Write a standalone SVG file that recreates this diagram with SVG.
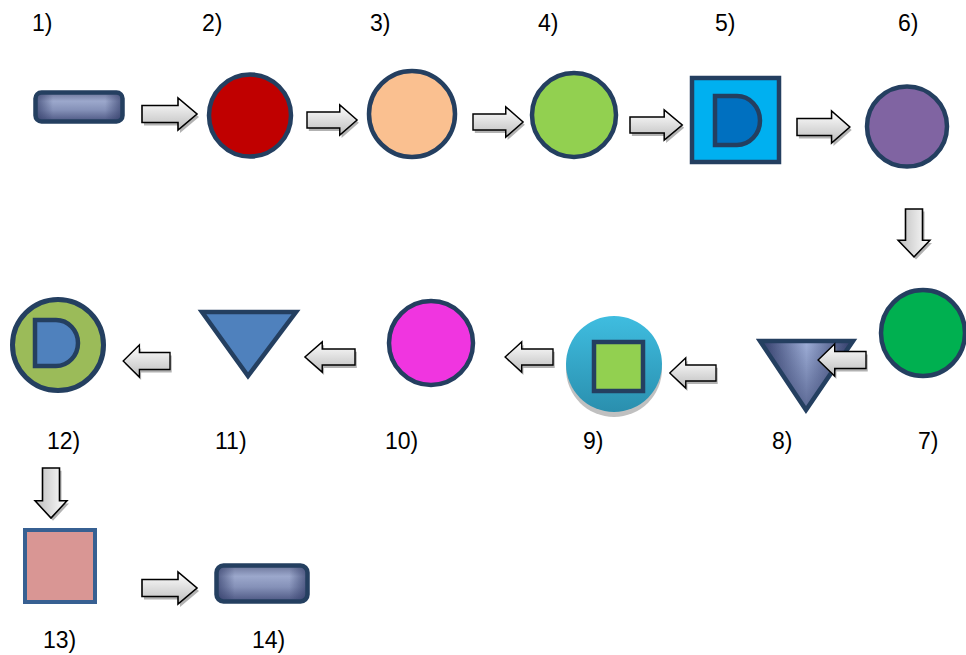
<svg xmlns="http://www.w3.org/2000/svg" xmlns:xlink="http://www.w3.org/1999/xlink" width="966" height="655" viewBox="0 0 966 655">
<style>
  .lbl { font-family: "Liberation Sans", Arial, sans-serif; font-size: 23px; fill: #000; }
  .nav { stroke: #243F60; stroke-width: 4.5; }
  .arrow { fill: url(#arrowGrad); stroke: #000; stroke-width: 1.6; stroke-linejoin: miter; }
  .shadow { fill: #7f7f7f; opacity: 0.6; }
</style>
<defs>
  <linearGradient id="arrowGrad" x1="0" y1="0" x2="0" y2="1">
    <stop offset="0" stop-color="#ffffff"/>
    <stop offset="1" stop-color="#bdbdbd"/>
  </linearGradient>
  <linearGradient id="barV" x1="0" y1="0" x2="0" y2="1">
    <stop offset="0" stop-color="#6b7499"/>
    <stop offset="0.3" stop-color="#9ca8cc"/>
    <stop offset="0.6" stop-color="#8591b8"/>
    <stop offset="1" stop-color="#4c5682"/>
  </linearGradient>
  <linearGradient id="barH" x1="0" y1="0" x2="1" y2="0">
    <stop offset="0" stop-color="#2f3a66" stop-opacity="0.7"/>
    <stop offset="0.2" stop-color="#2f3a66" stop-opacity="0"/>
    <stop offset="0.8" stop-color="#2f3a66" stop-opacity="0"/>
    <stop offset="1" stop-color="#2f3a66" stop-opacity="0.7"/>
  </linearGradient>
  <linearGradient id="triH" x1="0" y1="0" x2="1" y2="0">
    <stop offset="0" stop-color="#2e3966"/>
    <stop offset="0.5" stop-color="#9fafd8"/>
    <stop offset="1" stop-color="#2e3966"/>
  </linearGradient>
  <linearGradient id="triV" x1="0" y1="0" x2="0" y2="1">
    <stop offset="0" stop-color="#2e3966" stop-opacity="0"/>
    <stop offset="1" stop-color="#2e3966" stop-opacity="0.6"/>
  </linearGradient>
  <linearGradient id="ballGrad" x1="0" y1="0" x2="0" y2="1">
    <stop offset="0" stop-color="#3fbde0"/>
    <stop offset="1" stop-color="#2a8fae"/>
  </linearGradient>
  <path id="arr" d="M0,-8.5 H36 V-16 L55,0 L36,16 V8.5 H0 Z"/>
</defs>

<g id="labels">
  <text class="lbl" x="32" y="31">1)</text>
  <text class="lbl" x="202" y="31">2)</text>
  <text class="lbl" x="370" y="31">3)</text>
  <text class="lbl" x="538" y="31">4)</text>
  <text class="lbl" x="715" y="31">5)</text>
  <text class="lbl" x="898" y="31">6)</text>
  <text class="lbl" x="918" y="449">7)</text>
  <text class="lbl" x="772" y="449">8)</text>
  <text class="lbl" x="583" y="449">9)</text>
  <text class="lbl" x="385" y="449">10)</text>
  <text class="lbl" x="215" y="449">11)</text>
  <text class="lbl" x="47" y="449">12)</text>
  <text class="lbl" x="43" y="648">13)</text>
  <text class="lbl" x="252" y="648">14)</text>
</g>

<g id="node1">
  <rect x="35.5" y="92.5" width="87" height="29" rx="6" fill="url(#barV)"/>
  <rect x="35.5" y="92.5" width="87" height="29" rx="6" fill="url(#barH)" class="nav"/>
</g>
<g id="node2"><circle cx="250" cy="115.5" r="41" fill="#C00000" class="nav"/></g>
<g id="node3"><circle cx="412" cy="114" r="43" fill="#FAC090" class="nav"/></g>
<g id="node4"><circle cx="574" cy="115" r="42" fill="#92D050" class="nav"/></g>
<g id="node5">
  <rect x="692" y="78" width="87" height="84" fill="#00B0F0" class="nav"/>
  <path d="M715,96 H737 A23,24.5 0 0 1 737,145 H715 Z" fill="#0070C0" class="nav"/>
</g>
<g id="node6"><circle cx="907" cy="126.5" r="40" fill="#8064A2" class="nav"/></g>
<g id="node7"><ellipse cx="923" cy="333" rx="42" ry="43" fill="#00B050" class="nav"/></g>
<g id="node8">
  <polygon points="760,341 853,341 806,410" fill="url(#triH)"/>
  <polygon points="760,341 853,341 806,410" fill="url(#triV)" class="nav" stroke-linejoin="miter"/>
</g>
<g id="node9">
  <circle cx="614" cy="369" r="48" fill="#8c8c8c" opacity="0.55"/>
  <circle cx="614" cy="364" r="48" fill="url(#ballGrad)"/>
  <rect x="594" y="342" width="49" height="49" fill="#92D050" class="nav"/>
</g>
<g id="node10"><circle cx="431" cy="343" r="42" fill="#F035E0" class="nav"/></g>
<g id="node11">
  <polygon points="202,312 296,312 248,376" fill="#4F81BD" class="nav" stroke-linejoin="miter"/>
</g>
<g id="node12">
  <circle cx="58" cy="345" r="45.5" fill="#9BBB59" stroke="#243F60" stroke-width="5"/>
  <path d="M35,320 H56 A22,23 0 0 1 56,366 H35 Z" fill="#4F81BD" class="nav"/>
</g>
<g id="node13">
  <rect x="25" y="530" width="70" height="72" fill="#D99694" stroke="#376092" stroke-width="4"/>
</g>
<g id="node14">
  <rect x="216.5" y="565.5" width="91" height="36" rx="7" fill="url(#barV)"/>
  <rect x="216.5" y="565.5" width="91" height="36" rx="7" fill="url(#barH)" class="nav"/>
</g>

<g id="connectors">
  <g transform="translate(142,114)"><use xlink:href="#arr" class="shadow" transform="translate(2,3)"/><use xlink:href="#arr" class="arrow"/></g>
  <g transform="translate(307,120) scale(0.91,0.95)"><use xlink:href="#arr" class="shadow" transform="translate(2,3)"/><use xlink:href="#arr" class="arrow"/></g>
  <g transform="translate(473,122) scale(0.91,0.95)"><use xlink:href="#arr" class="shadow" transform="translate(2,3)"/><use xlink:href="#arr" class="arrow"/></g>
  <g transform="translate(630,125) scale(0.95,0.95)"><use xlink:href="#arr" class="shadow" transform="translate(2,3)"/><use xlink:href="#arr" class="arrow"/></g>
  <g transform="translate(797,127) scale(0.96,1)"><use xlink:href="#arr" class="shadow" transform="translate(2,3)"/><use xlink:href="#arr" class="arrow"/></g>
  <g transform="translate(914,209) rotate(90) scale(0.87,1)"><use xlink:href="#arr" class="shadow" transform="translate(3,-2)"/><use xlink:href="#arr" class="arrow"/></g>
  <g transform="translate(51,468) rotate(90) scale(0.91,1)"><use xlink:href="#arr" class="shadow" transform="translate(3,-2)"/><use xlink:href="#arr" class="arrow"/></g>
  <g transform="translate(866,360) scale(-0.87,1)"><use xlink:href="#arr" class="shadow" transform="translate(-2,3)"/><use xlink:href="#arr" class="arrow"/></g>
  <g transform="translate(716,373) scale(-0.84,0.95)"><use xlink:href="#arr" class="shadow" transform="translate(-2,3)"/><use xlink:href="#arr" class="arrow"/></g>
  <g transform="translate(553,357) scale(-0.87,0.95)"><use xlink:href="#arr" class="shadow" transform="translate(-2,3)"/><use xlink:href="#arr" class="arrow"/></g>
  <g transform="translate(355,357) scale(-0.91,0.95)"><use xlink:href="#arr" class="shadow" transform="translate(-2,3)"/><use xlink:href="#arr" class="arrow"/></g>
  <g transform="translate(170,361) scale(-0.85,1)"><use xlink:href="#arr" class="shadow" transform="translate(-2,3)"/><use xlink:href="#arr" class="arrow"/></g>
  <g transform="translate(142,588)"><use xlink:href="#arr" class="shadow" transform="translate(2,3)"/><use xlink:href="#arr" class="arrow"/></g>
</g>
</svg>
